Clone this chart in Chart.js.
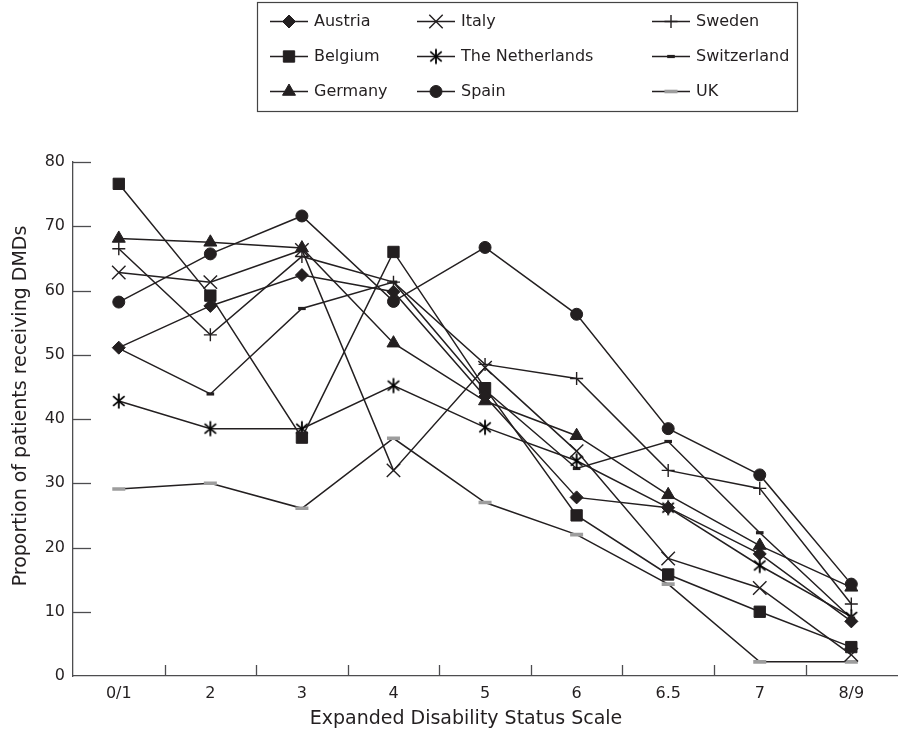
<!DOCTYPE html>
<html>
<head>
<meta charset="utf-8">
<script src="https://cdn.jsdelivr.net/npm/chart.js"></script>
<style>
  html, body { margin: 0; padding: 0; background: #fff; overflow: hidden; }
  #wrap { width: 901px; height: 734px; overflow: hidden; position: relative; }
  canvas { display: block; }
</style>
</head>
<body>
<div id="wrap"><canvas id="c" width="908" height="734"></canvas></div>
<script>
// ---- data ----
const categories = ['0/1', '2', '3', '4', '5', '6', '6.5', '7', '8/9'];
const seriesNames = ['Austria', 'Belgium', 'Germany', 'Italy', 'The Netherlands', 'Spain', 'Sweden', 'Switzerland', 'UK'];
const austria     = [51.1, 57.6, 62.4, 59.8, 43.5, 27.8, 26.2, 19.0, 8.5];
const belgium     = [76.6, 59.2, 37.1, 66.0, 44.8, 25.0, 15.8, 10.0, 4.5];
const germany     = [68.1, 67.5, 66.6, 51.8, 42.8, 37.4, 28.2, 20.3, 13.8];
const italy       = [62.8, 61.3, 66.3, 32.0, 48.0, 35.0, 18.3, 13.7, 3.3];
const netherlands = [42.8, 38.5, 38.5, 45.2, 38.7, 33.5, 26.2, 17.2, 9.2];
const spain       = [58.2, 65.7, 71.6, 58.3, 66.7, 56.3, 38.5, 31.3, 14.3];
const sweden      = [66.5, 53.1, 65.3, 61.3, 48.5, 46.3, 32.0, 29.2, 11.2];
const switzerland = [51.0, 43.9, 57.2, 61.3, 44.5, 32.3, 36.5, 22.3, 9.0];
const uk          = [29.1, 30.0, 26.1, 37.0, 27.0, 22.0, 14.3, 2.2, 2.2];
const yTicks = [0, 10, 20, 30, 40, 50, 60, 70, 80];
const xTitle = 'Expanded Disability Status Scale';
const yTitle = 'Proportion of patients receiving DMDs';

// ---- styles ----
const INK = '#231f20';
const AXIS = '#4d4d4f';
const GREY = '#9d9d9d';
const FONT = "'DejaVu Sans', sans-serif";

function asteriskCanvas() {
  const s = 18, c = document.createElement('canvas');
  c.width = s; c.height = s;
  const g = c.getContext('2d');
  g.strokeStyle = '#000'; g.lineWidth = 1.8;
  const cx = s / 2, cy = s / 2, r = 7.5;
  [90, 40, 140].forEach(a => {
    const t = a * Math.PI / 180;
    g.beginPath();
    g.moveTo(cx + Math.cos(t) * r, cy - Math.sin(t) * r);
    g.lineTo(cx - Math.cos(t) * r, cy + Math.sin(t) * r);
    g.stroke();
  });
  return c;
}
const asterisk = asteriskCanvas();

const styles = [
  { pointStyle: 'rectRot',  radius: 6.5, border: 1,   color: INK },
  { pointStyle: 'rect',     radius: 8,   border: 1,   color: INK },
  { pointStyle: 'triangle', radius: 7.5, border: 1,   color: INK },
  { pointStyle: 'crossRot', radius: 9.5, border: 1.4, color: INK },
  { pointStyle: asterisk,   radius: 8,   border: 1.4, color: INK },
  { pointStyle: 'circle',   radius: 6,   border: 1,   color: INK },
  { pointStyle: 'cross',    radius: 6.5, border: 1.4, color: INK },
  { pointStyle: 'line',     radius: 3.8, border: 3.2, color: INK },
  { pointStyle: 'line',     radius: 6.5, border: 3.6, color: GREY }
];
const values = [austria, belgium, germany, italy, netherlands, spain, sweden, switzerland, uk];

const datasets = seriesNames.map((name, i) => ({
  label: name,
  data: values[i],
  borderColor: INK,
  borderWidth: 1.5,
  backgroundColor: INK,
  pointStyle: styles[i].pointStyle,
  pointRadius: styles[i].radius,
  pointHoverRadius: styles[i].radius,
  pointBorderWidth: styles[i].border,
  pointBorderColor: styles[i].color,
  pointBackgroundColor: styles[i].color,
  tension: 0,
  fill: false
}));

// legend layout (column-major, 3 rows)
const legendBox = { x: 257, y: 2, w: 540, h: 109 };
const legendCols = [270, 417, 652];
const legendRows = [21, 56, 91];
const legendLine = 38;

const customPlugin = {
  id: 'custom',
  afterDraw(chart) {
    const ctx = chart.ctx;
    const xs = chart.scales.x, ys = chart.scales.y;
    const area = chart.chartArea;
    ctx.save();
    // inward tick marks
    ctx.strokeStyle = AXIS; ctx.lineWidth = 1.3;
    ys.ticks.forEach(t => {
      if (t.value === 0) return;
      const py = Math.round(ys.getPixelForValue(t.value)) + 0.5;
      ctx.beginPath(); ctx.moveTo(area.left, py); ctx.lineTo(area.left + 18, py); ctx.stroke();
    });
    for (let i = 1; i < categories.length; i++) {
      const px = Math.round((xs.getPixelForValue(i - 1) + xs.getPixelForValue(i)) / 2) + 0.5;
      ctx.beginPath(); ctx.moveTo(px, area.bottom); ctx.lineTo(px, area.bottom - 11); ctx.stroke();
    }
    // axis titles
    ctx.fillStyle = INK;
    ctx.font = '19px ' + FONT;
    ctx.textAlign = 'center'; ctx.textBaseline = 'middle';
    ctx.fillText(xTitle, 466, 719);
    ctx.save();
    ctx.translate(21, 406);
    ctx.rotate(-Math.PI / 2);
    ctx.fillText(yTitle, 0, 0);
    ctx.restore();
    // legend
    ctx.strokeStyle = '#444'; ctx.lineWidth = 1.2;
    ctx.strokeRect(legendBox.x + 0.5, legendBox.y + 0.5, legendBox.w, legendBox.h);
    chart.data.datasets.forEach((ds, i) => {
      const col = Math.floor(i / 3), row = i % 3;
      const x0 = legendCols[col], y0 = legendRows[row];
      ctx.strokeStyle = INK; ctx.lineWidth = 1.5;
      ctx.beginPath(); ctx.moveTo(x0, y0 + 0.5); ctx.lineTo(x0 + legendLine, y0 + 0.5); ctx.stroke();
      ctx.fillStyle = ds.pointBackgroundColor; ctx.strokeStyle = ds.pointBorderColor;
      ctx.lineWidth = ds.pointBorderWidth;
      Chart.helpers.drawPoint(ctx, { pointStyle: ds.pointStyle, radius: ds.pointRadius, rotation: 0, borderWidth: ds.pointBorderWidth }, x0 + legendLine / 2, y0 + 0.5);
      ctx.fillStyle = INK;
      ctx.font = '16px ' + FONT;
      ctx.textAlign = 'left'; ctx.textBaseline = 'middle';
      ctx.fillText(ds.label, x0 + legendLine + 6, y0 + 1);
    });
    ctx.restore();
  }
};

new Chart(document.getElementById('c'), {
  type: 'line',
  data: { labels: categories, datasets },
  options: {
    responsive: false,
    animation: false,
    devicePixelRatio: 1,
    layout: { padding: { top: 162, left: 0, right: 0, bottom: 0 } },
    plugins: { legend: { display: false }, tooltip: { enabled: false } },
    scales: {
      x: {
        type: 'category',
        offset: true,
        grid: { display: true, drawOnChartArea: false, drawTicks: false, offset: true },
        border: { display: true, color: AXIS, width: 1.3 },
        ticks: { color: INK, font: { family: FONT, size: 16 }, padding: 8, maxRotation: 0, autoSkip: false },
        afterFit(s) { s.height = 58; }
      },
      y: {
        min: 0, max: 80,
        afterBuildTicks(s) { s.ticks = yTicks.map(v => ({ value: v })); },
        grid: { display: true, drawOnChartArea: false, drawTicks: false },
        border: { display: true, color: AXIS, width: 1.3 },
        ticks: { color: INK, font: { family: FONT, size: 16 }, padding: 8 },
        afterFit(s) { s.width = 73; }
      }
    }
  },
  plugins: [customPlugin]
});
</script>
</body>
</html>
